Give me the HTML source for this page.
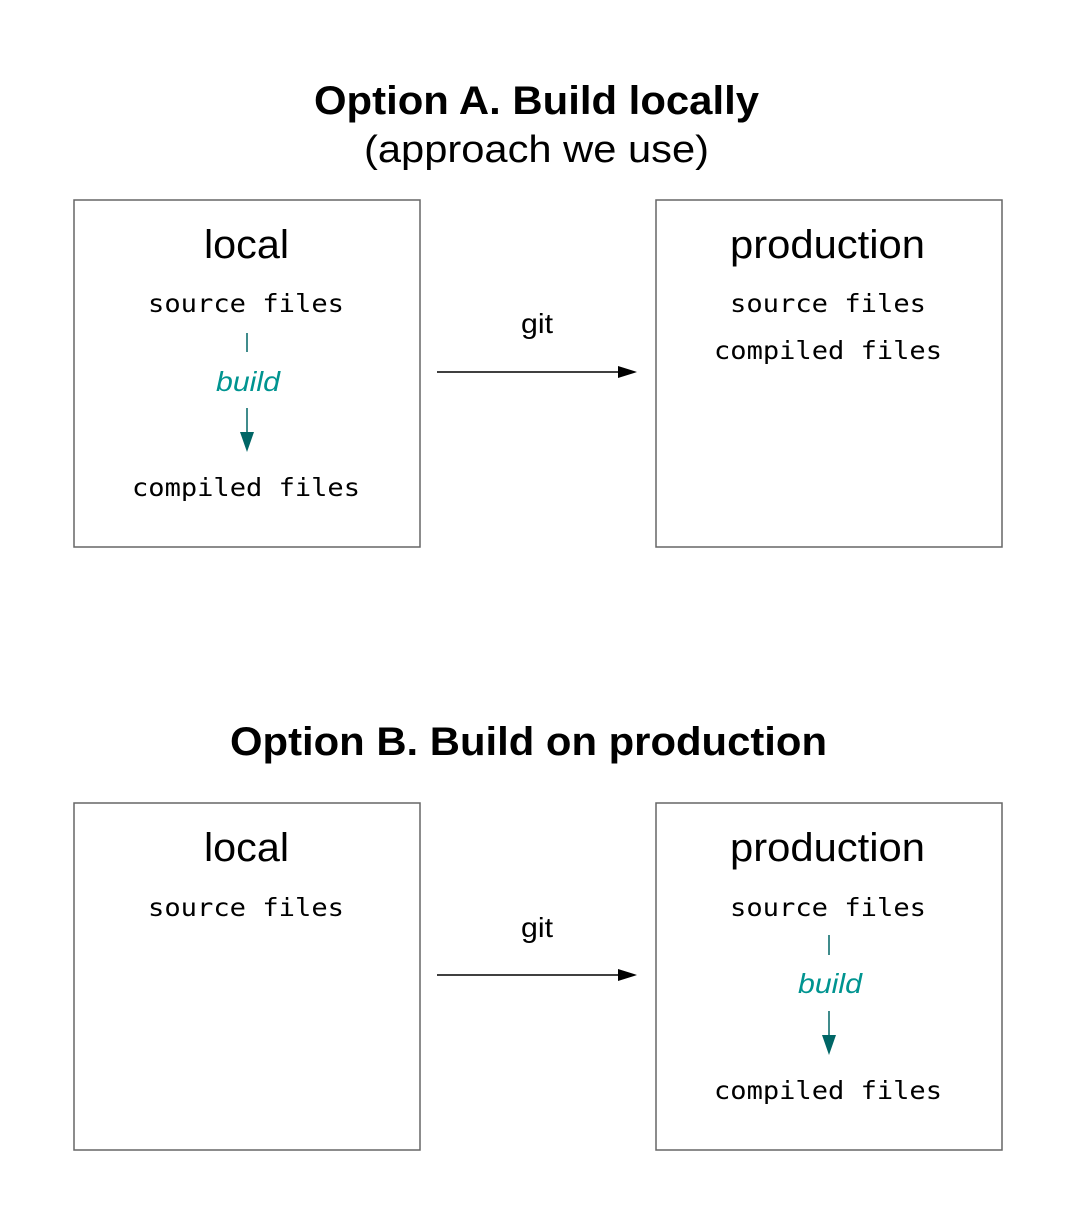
<!DOCTYPE html>
<html><head><style>html,body{margin:0;padding:0;background:#fff}</style></head><body>
<svg width="1076" height="1224" viewBox="0 0 1076 1224" xmlns="http://www.w3.org/2000/svg">
<rect width="1076" height="1224" fill="#fff"/>
<g font-family="Liberation Sans, sans-serif" fill="#000">
<text x="314" y="114" font-size="40" font-weight="bold" textLength="445" lengthAdjust="spacingAndGlyphs">Option A. Build locally</text>
<text x="364" y="162" font-size="38" textLength="345" lengthAdjust="spacingAndGlyphs">(approach we use)</text>
<text x="230" y="755" font-size="40" font-weight="bold" textLength="597" lengthAdjust="spacingAndGlyphs">Option B. Build on production</text>
</g>
<g fill="none" stroke="#666" stroke-width="1.5">
<rect x="74" y="200" width="346" height="347"/>
<rect x="656" y="200" width="346" height="347"/>
<rect x="74" y="803" width="346" height="347"/>
<rect x="656" y="803" width="346" height="347"/>
</g>
<g font-family="Liberation Sans, sans-serif" font-size="40" fill="#000">
<text x="204" y="258" textLength="85" lengthAdjust="spacingAndGlyphs">local</text>
<text x="730" y="258" textLength="195" lengthAdjust="spacingAndGlyphs">production</text>
<text x="204" y="861" textLength="85" lengthAdjust="spacingAndGlyphs">local</text>
<text x="730" y="861" textLength="195" lengthAdjust="spacingAndGlyphs">production</text>
<text x="521" y="333" font-size="28" textLength="32" lengthAdjust="spacingAndGlyphs">git</text>
<text x="521" y="937" font-size="28" textLength="32" lengthAdjust="spacingAndGlyphs">git</text>
</g>
<g font-family="DejaVu Sans Mono, Liberation Mono, monospace" font-size="25" fill="#000">
<text x="148" y="312" textLength="196" lengthAdjust="spacingAndGlyphs">source files</text>
<text x="132" y="496" textLength="228" lengthAdjust="spacingAndGlyphs">compiled files</text>
<text x="730" y="312" textLength="196" lengthAdjust="spacingAndGlyphs">source files</text>
<text x="714" y="359" textLength="228" lengthAdjust="spacingAndGlyphs">compiled files</text>
<text x="148" y="916" textLength="196" lengthAdjust="spacingAndGlyphs">source files</text>
<text x="730" y="916" textLength="196" lengthAdjust="spacingAndGlyphs">source files</text>
<text x="714" y="1099" textLength="228" lengthAdjust="spacingAndGlyphs">compiled files</text>
</g>
<g font-family="Liberation Sans, sans-serif" font-size="28" font-style="italic" fill="#009490">
<text x="216" y="391" textLength="64" lengthAdjust="spacingAndGlyphs">build</text>
<text x="798" y="993" textLength="64" lengthAdjust="spacingAndGlyphs">build</text>
</g>
<g stroke="#006666" stroke-width="1.5" fill="#006666">
<line x1="247" y1="333" x2="247" y2="352"/>
<line x1="247" y1="408" x2="247" y2="434"/>
<polygon points="240,432 254,432 247,452" stroke="none"/>
<line x1="829" y1="935" x2="829" y2="955"/>
<line x1="829" y1="1011" x2="829" y2="1037"/>
<polygon points="822,1035 836,1035 829,1055" stroke="none"/>
</g>
<g stroke="#000" stroke-width="1.5" fill="#000">
<line x1="437" y1="372" x2="620" y2="372"/>
<polygon points="618,366 637,372 618,378" stroke="none"/>
<line x1="437" y1="975" x2="620" y2="975"/>
<polygon points="618,969 637,975 618,981" stroke="none"/>
</g>
</svg>
</body></html>
